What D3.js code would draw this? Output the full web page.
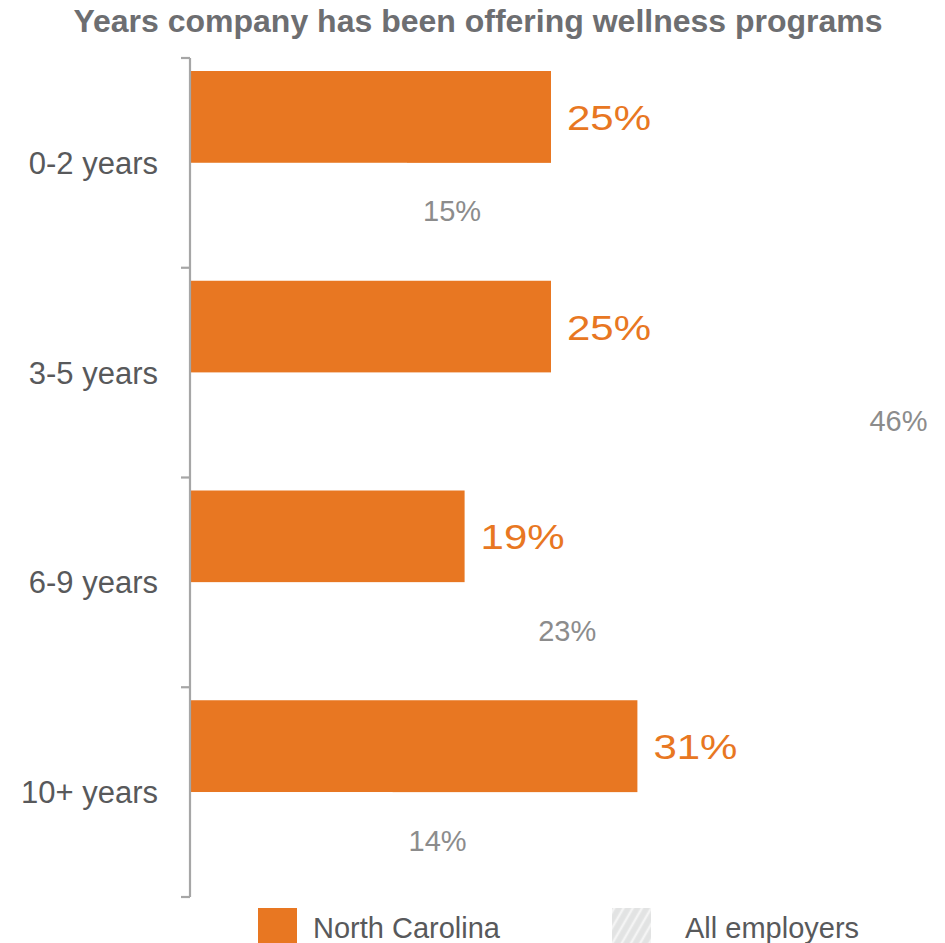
<!DOCTYPE html>
<html>
<head>
<meta charset="utf-8">
<script src="https://cdn.jsdelivr.net/npm/d3@7"></script>
<style>
  html, body { margin: 0; padding: 0; background: #fff; }
  svg { display: block; font-family: "Liberation Sans", Arial, Helvetica, sans-serif; }
</style>
</head>
<body>
<svg id="chart" width="945" height="943"></svg>
<script>
// Share of companies by how long they have offered wellness programs (%)
const categories = ["0-2 years", "3-5 years", "6-9 years", "10+ years"];
const seriesNames = ["North Carolina", "All employers"];
const northCarolina = [25, 25, 19, 31];
const allEmployers = [15, 46, 23, 14];
const titleText = "Years company has been offering wellness programs";

const ORANGE = "#E87722";
const svg = d3.select("#chart");

// hatched fill used by the "All employers" legend swatch
const defs = svg.append("defs");
const pat = defs.append("pattern")
  .attr("id", "hatch")
  .attr("patternUnits", "userSpaceOnUse")
  .attr("width", 8).attr("height", 8)
  .attr("patternTransform", "rotate(30)");
pat.append("rect").attr("width", 8).attr("height", 8).attr("fill", "#e2e3e3");
pat.append("line").attr("x1", 2).attr("y1", 0).attr("x2", 2).attr("y2", 8)
  .attr("stroke", "#f4f4f4").attr("stroke-width", 2.5);

const plotTop = 58, plotBottom = 897;
const axisX = 190;

const y = d3.scaleBand().domain(categories).range([plotTop, plotBottom]).padding(0);
const inner = d3.scaleBand().domain(seriesNames)
  .range([13, y.bandwidth() - 13]).padding(0);
const x = d3.scaleLinear().domain([0, 50]).range([axisX + 1, axisX + 1 + 14.4 * 50]);

const rows = categories.map((c, i) => ({
  cat: c,
  values: [
    { series: seriesNames[0], value: northCarolina[i] },
    { series: seriesNames[1], value: allEmployers[i] }
  ]
}));

// title
svg.append("text")
  .attr("x", 478).attr("y", 32)
  .attr("text-anchor", "middle")
  .attr("font-size", 32).attr("font-weight", "bold")
  .attr("fill", "#6d6e71")
  .text(titleText);

// bars
const groups = svg.selectAll("g.row").data(rows).join("g")
  .attr("class", "row")
  .attr("transform", d => `translate(0,${y(d.cat)})`);

groups.selectAll("rect").data(d => d.values).join("rect")
  .attr("x", x(0))
  .attr("y", d => inner(d.series))
  .attr("width", d => x(d.value) - x(0))
  .attr("height", inner.bandwidth())
  .attr("fill", d => d.series === seriesNames[0] ? ORANGE : "#ffffff");

// value labels
groups.selectAll("text.val").data(d => d.values).join("text")
  .attr("class", "val")
  .attr("transform", d => {
    const tx = x(d.value) + 16;
    const cy = inner(d.series) + inner.bandwidth() / 2;
    return d.series === seriesNames[0]
      ? `translate(${tx},${cy + 13}) scale(1.2,1)`
      : `translate(${tx},${cy + 12.5})`;
  })
  .attr("font-size", d => d.series === seriesNames[0] ? 35 : 29)
  .attr("fill", d => d.series === seriesNames[0] ? ORANGE : "#8c8c8c")
  .text(d => d.value + "%");

// category axis
const axis = svg.append("g").attr("class", "axis");
axis.append("line")
  .attr("x1", axisX).attr("x2", axisX)
  .attr("y1", plotTop).attr("y2", plotBottom)
  .attr("stroke", "#a6a6a6").attr("stroke-width", 2.2);
const tickYs = categories.map(c => y(c)).concat([plotBottom]);
axis.selectAll("line.tick").data(tickYs).join("line")
  .attr("class", "tick")
  .attr("x1", axisX - 9).attr("x2", axisX)
  .attr("y1", d => d).attr("y2", d => d)
  .attr("stroke", "#a6a6a6").attr("stroke-width", 2.2);
axis.selectAll("text").data(categories).join("text")
  .attr("x", 158)
  .attr("y", d => y(d) + y.bandwidth() / 2 + 11)
  .attr("text-anchor", "end")
  .attr("font-size", 31)
  .attr("fill", "#58595b")
  .text(d => d);

// legend
const legendX = d3.scalePoint().domain(seriesNames).range([258, 612]);
const legend = svg.selectAll("g.legend").data(seriesNames).join("g")
  .attr("class", "legend")
  .attr("transform", d => `translate(${legendX(d)},908)`);
legend.append("rect")
  .attr("width", 39).attr("height", 39)
  .attr("fill", (d, i) => i === 0 ? ORANGE : "url(#hatch)");
legend.append("text")
  .attr("x", (d, i) => i === 0 ? 55 : 73)
  .attr("y", 30)
  .attr("font-size", 29)
  .attr("fill", "#58595b")
  .text(d => d);
</script>
</body>
</html>
